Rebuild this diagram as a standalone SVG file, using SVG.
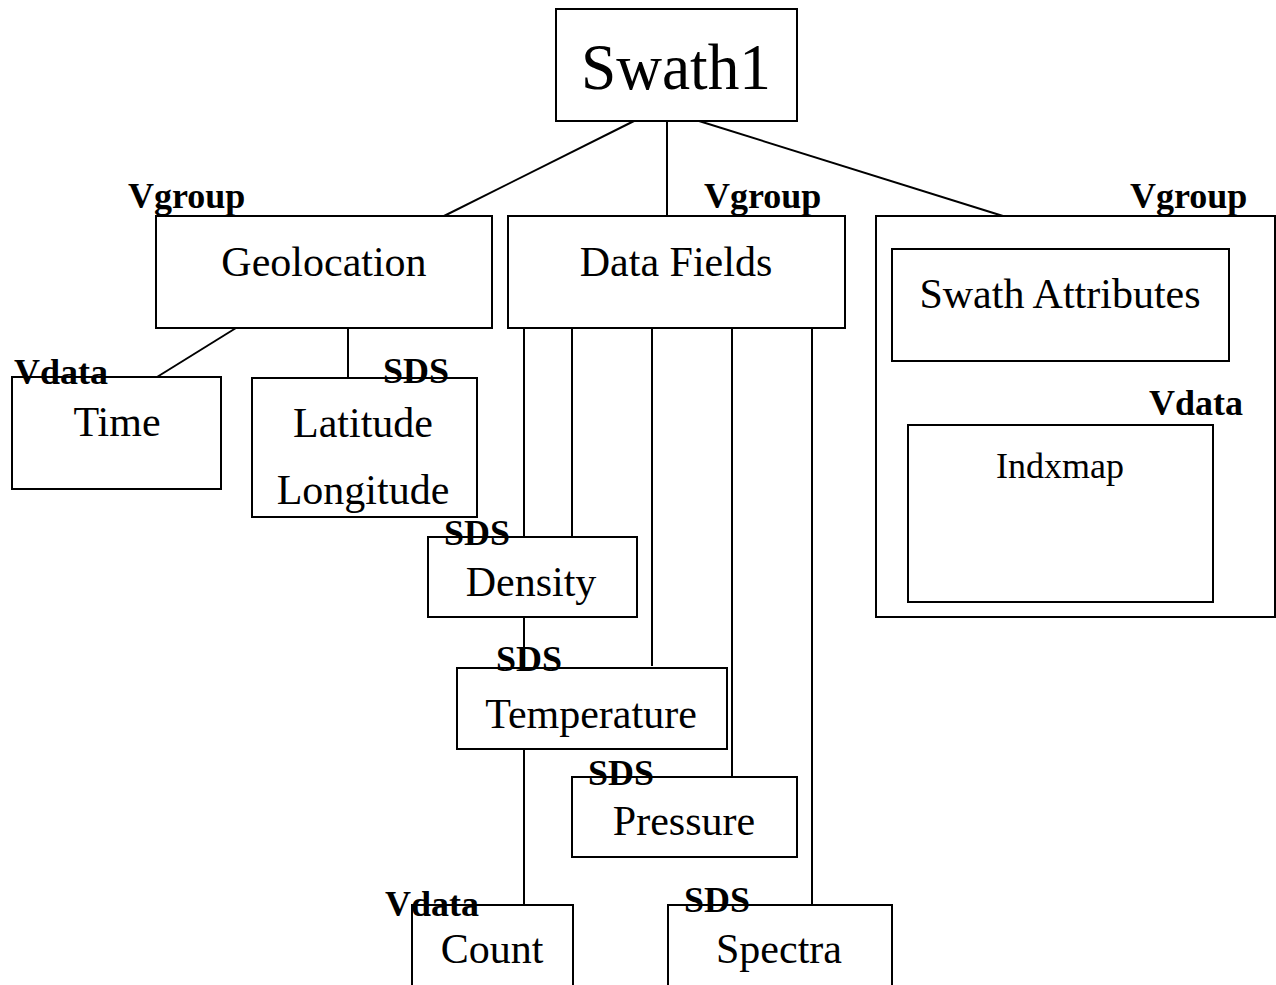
<svg xmlns="http://www.w3.org/2000/svg" width="1276" height="985" viewBox="0 0 1276 985">
<style>
.box{fill:none;stroke:#000;stroke-width:2}
.ln{stroke:#000;stroke-width:2;fill:none}
.t{font-family:"Liberation Serif","Times New Roman",serif;font-size:42px;fill:#000;text-anchor:middle}
.lb{font-family:"Liberation Serif","Times New Roman",serif;font-size:36px;font-weight:bold;fill:#000}
</style>
<rect x="0" y="0" width="1276" height="985" fill="#fff"/>
<g id="connectors">
<line class="ln" x1="634" y1="121" x2="444" y2="216"/>
<line class="ln" x1="667" y1="121" x2="667" y2="216"/>
<line class="ln" x1="699" y1="121" x2="1003" y2="216"/>
<line class="ln" x1="236" y1="328" x2="157" y2="377"/>
<line class="ln" x1="348" y1="328" x2="348" y2="378"/>
<line class="ln" x1="524" y1="328" x2="524" y2="537"/>
<line class="ln" x1="572" y1="328" x2="572" y2="537"/>
<line class="ln" x1="524" y1="617" x2="524" y2="668"/>
<line class="ln" x1="652" y1="328" x2="652" y2="666"/>
<line class="ln" x1="524" y1="749" x2="524" y2="905"/>
<line class="ln" x1="732" y1="328" x2="732" y2="777"/>
<line class="ln" x1="812" y1="328" x2="812" y2="905"/>
</g>
<g id="swath1">
<rect class="box" x="556" y="9" width="241" height="112"/>
<text class="t" x="676" y="89" style="font-size:66px" textLength="190" lengthAdjust="spacingAndGlyphs">Swath1</text>
</g>
<g id="geolocation">
<rect class="box" x="156" y="216" width="336" height="112"/>
<text class="t" x="324" y="276">Geolocation</text>
<text class="lb" x="128" y="208">Vgroup</text>
</g>
<g id="datafields">
<rect class="box" x="508" y="216" width="337" height="112"/>
<text class="t" x="676" y="276">Data Fields</text>
<text class="lb" x="704" y="208">Vgroup</text>
</g>
<g id="attrgroup">
<rect class="box" x="876" y="216" width="399" height="401"/>
<text class="lb" x="1130" y="208">Vgroup</text>
</g>
<g id="swathattributes">
<rect class="box" x="892" y="249" width="337" height="112"/>
<text class="t" x="1060" y="308">Swath Attributes</text>
</g>
<g id="indxmap">
<rect class="box" x="908" y="425" width="305" height="177"/>
<text class="t" x="1060" y="478" style="font-size:36px">Indxmap</text>
<text class="lb" x="1149" y="415">Vdata</text>
</g>
<g id="time">
<rect class="box" x="12" y="377" width="209" height="112"/>
<text class="t" x="117" y="436">Time</text>
<text class="lb" x="14" y="384">Vdata</text>
</g>
<g id="latlon">
<rect class="box" x="252" y="378" width="225" height="139"/>
<text class="t" x="363" y="437">Latitude</text>
<text class="t" x="363" y="504">Longitude</text>
<text class="lb" x="383" y="383">SDS</text>
</g>
<g id="density">
<rect class="box" x="428" y="537" width="209" height="80"/>
<text class="t" x="531" y="596">Density</text>
<text class="lb" x="444" y="545">SDS</text>
</g>
<g id="temperature">
<rect class="box" x="457" y="668" width="270" height="81"/>
<text class="t" x="591" y="728">Temperature</text>
<text class="lb" x="496" y="671">SDS</text>
</g>
<g id="pressure">
<rect class="box" x="572" y="777" width="225" height="80"/>
<text class="t" x="684" y="835">Pressure</text>
<text class="lb" x="588" y="785">SDS</text>
</g>
<g id="count">
<rect class="box" x="412" y="905" width="161" height="100"/>
<text class="t" x="492" y="963">Count</text>
<text class="lb" x="385" y="916">Vdata</text>
</g>
<g id="spectra">
<rect class="box" x="668" y="905" width="224" height="100"/>
<text class="t" x="779" y="963">Spectra</text>
<text class="lb" x="684" y="912">SDS</text>
</g>
</svg>
